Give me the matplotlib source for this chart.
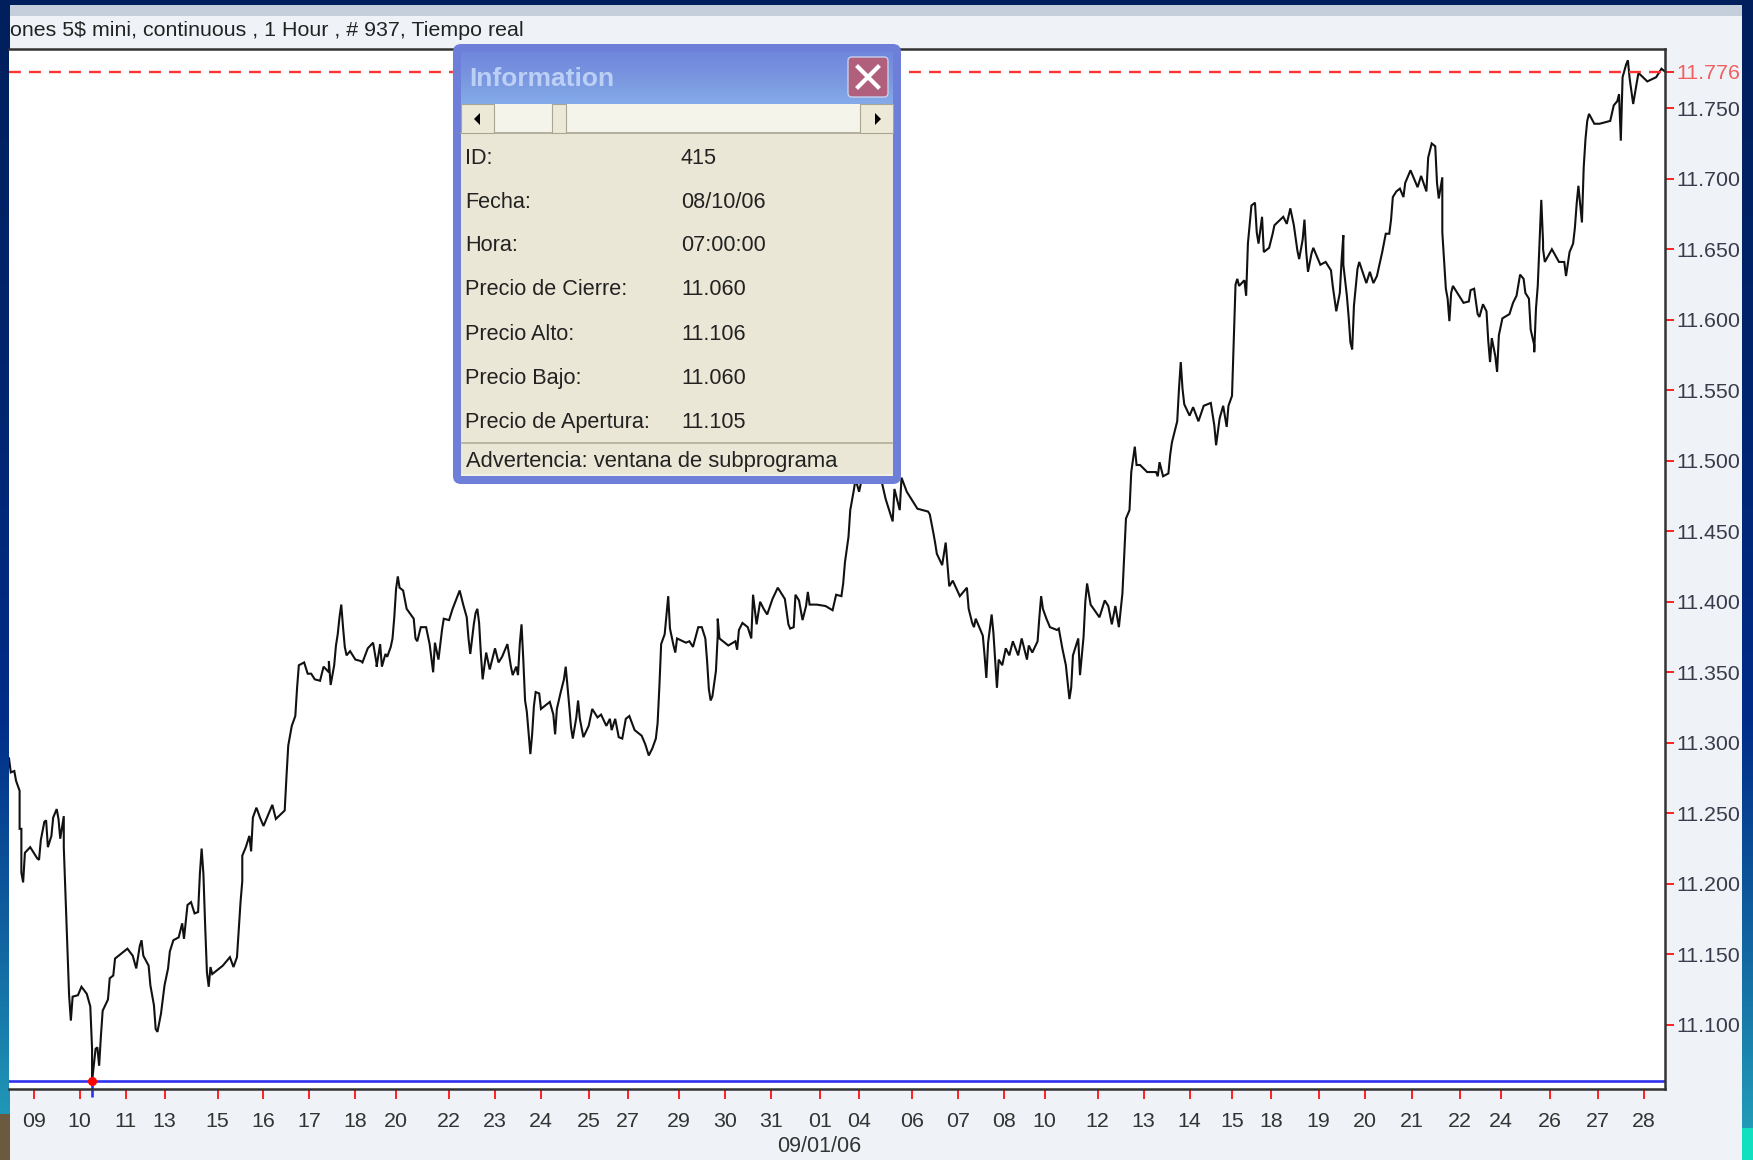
import numpy as np
import matplotlib
matplotlib.use("Agg")
import matplotlib.pyplot as plt
from matplotlib.colors import LinearSegmentedColormap
from matplotlib.patches import Rectangle, FancyBboxPatch, Polygon

plt.rcParams['font.family'] = ['Liberation Sans', 'DejaVu Sans']
plt.rcParams['lines.scale_dashes'] = False

W, H = 1753, 1160

# ---------- data ----------
bar_index = [
0,1,3,4,6,6,7,7,8,9,12,16,17,18,20,21,22,24,25,27,28,29,31,31,32,33,34,35,36,39,41,44,46,47,47,49,50,51,52,53,56,57,59,60,63,67,70,72,74,75,76,79,80,82,83,84,86,88,90,91,93,96,98,99,101,103,105,107,108,109,110,111,112,113,114,115,121,125,127,129,131,132,132,134,136,137,138,140,142,144,146,149,151,156,157,158,
160,162,163,164,167,169,171,173,176,178,181,181,182,184,185,186,187,188,189,190,191,193,196,199,200,203,206,208,208,210,211,213,214,216,217,218,219,220,221,223,225,229,230,231,233,236,238,240,241,243,245,246,249,251,255,257,259,260,261,263,264,265,266,267,268,270,272,275,277,279,282,284,285,287,288,289,290,291,292,293,294,295,296,297,298,300,301,306,308,309,310,312,314,315,317,318,319,321,322,323,325,328,330,333,335,338,340,341,343,345,347,349,351,354,358,360,362,364,366,367,
368,369,371,373,374,376,377,378,383,385,387,390,392,394,395,396,397,398,400,401,401,402,407,411,412,413,415,418,420,421,423,425,427,429,432,435,439,441,442,444,445,447,449,451,452,453,457,462,466,468,471,472,473,474,475,476,478,479,481,482,485,489,492,494,496,498,500,501,504,505,508,511,514,520,
521,523,524,525,528,530,532,534,538,542,543,545,546,547,551,552,553,554,556,557,559,560,562,564,566,568,571,573,576,577,579,582,583,584,585,587,589,593,594,595,596,598,599,600,601,602,605,606,608,609,610,612,617,620,622,624,626,628,630,631,632,634,635,637,638,640,644,649,650,651,653,656,657,
658,660,661,662,663,664,665,668,670,673,676,680,682,683,685,687,689,690,692,693,694,695,696,699,700,701,703,705,706,707,709,710,713,715,716,721,723,725,727,729,730,732,733,734,735,737,738,742,745,748,749,751,753,754,755,755,757,758,759,760,761,763,764,768,770,772,774,777,779,781,782,783,785,
787,789,790,793,797,799,802,803,805,807,808,809,811,811,813,814,815,816,817,823,826,827,829,831,832,834,836,837,838,839,841,842,843,845,849,851,853,855,857,858,860,861,863,863,864,865,866,867,868,868,869,873,877,880,881,883,885,886,887,888,890,891,892,
893,894,897,900,906,908,910,911,912,913,915,916,917,919,921,922,927,932,935,937]

close_price = [
11289,11279,11280,11273,11266,11239,11239,11208,11201,11222,11226,11218,11217,11231,11244,11245,11226,11234,11247,11253,11246,11232,11248,11226,11191,11157,11121,11103,11120,11121,11127,11122,11113,11083,11060,11083,11084,11071,11092,11110,11118,11133,11135,11147,11150,11154,11149,11140,11156,11160,11149,11142,11128,11114,11097,11095,11108,11128,11140,11152,11160,11162,11172,11161,11185,11187,11179,11180,11207,11225,11207,11170,11137,11127,11141,11136,11142,11148,11141,11148,11187,11202,11220,11226,11234,11223,11247,11254,11247,11241,11247,11256,11246,11252,11276,11298,
11312,11319,11339,11355,11357,11349,11349,11345,11344,11354,11350,11358,11341,11355,11369,11377,11389,11398,11382,11368,11362,11365,11359,11358,11357,11367,11371,11356,11354,11370,11354,11363,11361,11368,11374,11389,11409,11418,11410,11408,11395,11388,11374,11372,11382,11382,11370,11350,11371,11359,11380,11388,11387,11395,11408,11398,11389,11374,11363,11384,11392,11395,11385,11363,11345,11364,11352,11367,11357,11361,11370,11354,11348,11354,11348,11370,11384,11359,11330,11322,11307,11292,11306,11326,11336,11335,11324,11329,11320,11306,11324,11335,11345,11354,11326,11311,11303,11318,11330,11317,11304,11312,11324,11318,11320,11312,11317,11309,11317,11304,11303,11317,11319,11309,11305,11299,11291,11296,11303,11314,
11340,11370,11377,11404,11381,11369,11364,11374,11371,11372,11368,11382,11382,11374,11358,11338,11330,11333,11351,11376,11388,11374,11369,11372,11366,11380,11385,11382,11374,11405,11384,11400,11395,11391,11402,11410,11402,11384,11381,11382,11405,11401,11387,11397,11407,11398,11398,11397,11394,11405,11404,11413,11428,11437,11446,11465,11479,11487,11478,11484,11495,11502,11490,11484,11473,11465,11457,11480,11465,11488,11478,11472,11466,11464,
11462,11449,11442,11434,11426,11442,11411,11415,11404,11410,11395,11385,11382,11388,11376,11362,11346,11371,11391,11378,11339,11359,11355,11367,11362,11372,11362,11374,11359,11369,11364,11372,11389,11404,11395,11388,11382,11380,11381,11374,11367,11355,11343,11331,11339,11362,11374,11348,11375,11400,11413,11398,11389,11401,11397,11384,11397,11382,11406,11433,11459,11465,11492,11510,11497,11497,11492,11492,11489,11499,11489,11491,11504,
11513,11523,11528,11551,11570,11551,11540,11532,11538,11528,11539,11541,11525,11511,11530,11539,11524,11539,11546,11585,11625,11629,11624,11628,11617,11654,11681,11683,11662,11654,11673,11648,11651,11661,11667,11673,11668,11679,11667,11649,11643,11657,11671,11648,11634,11647,11651,11639,11641,11635,11624,11606,11619,11642,11660,11639,11617,11602,11584,11579,11610,11636,11641,11626,11634,11626,11631,11648,11661,11661,11671,11687,11691,
11693,11687,11697,11706,11694,11702,11691,11715,11725,11723,11697,11686,11701,11662,11622,11615,11599,11619,11624,11612,11613,11621,11622,11604,11602,11611,11606,11585,11570,11587,11574,11563,11589,11601,11604,11612,11617,11632,11629,11619,11615,11593,11582,11577,11608,11624,11654,11685,11655,11650,11641,11650,11641,11641,11631,11648,11654,11665,11682,11695,11669,11708,11728,
11741,11746,11739,11739,11741,11752,11755,11760,11727,11772,11781,11784,11771,11753,11768,11775,11769,11772,11778,11776]

price_ticks = [11100,11150,11200,11250,11300,11350,11400,11450,11500,11550,11600,11650,11700,11750]
price_high = 11776
price_low = 11060
low_bar = 47

day_ticks = [14,40,66,88,118,144,170,196,219,249,275,301,328,350,379,405,431,459,481,511,537,563,586,616,642,668,692,714,741,767,794,821,844,872,899,925]
day_labels = ['09','10','11','13','15','16','17','18','20','22','23','24','25','27','29','30','31','01','04','06','07','08','10','12','13','14','15','18','19','20','21','22','24','26','27','28']

title_text = 'ones 5$ mini, continuous , 1 Hour , # 937, Tiempo real'
date_text = '09/01/06'
info_rows = [('ID:','415'),('Fecha:','08/10/06'),('Hora:','07:00:00'),
             ('Precio de Cierre:','11.060'),('Precio Alto:','11.106'),
             ('Precio Bajo:','11.060'),('Precio de Apertura:','11.105')]
# --------------------------

fig = plt.figure(figsize=(W/100, H/100), dpi=100, facecolor='#EFF3F7')

def px_axes(z):
    a = fig.add_axes([0,0,1,1], zorder=z)
    a.set_xlim(0,W); a.set_ylim(H,0); a.axis('off')
    a.patch.set_alpha(0)
    return a

# window background
bg = px_axes(0)
cm = LinearSegmentedColormap.from_list('edge',[(0,'#001F5C'),(0.3,'#00246C'),(0.62,'#002C88'),(0.8,'#10609F'),(1,'#24A4BC')])
grad = np.linspace(0,1,256).reshape(-1,1)
bg.imshow(grad, cmap=cm, extent=[0,W,H,0], aspect='auto')
bg.set_xlim(0,W); bg.set_ylim(H,0)
bg.add_patch(Rectangle((0,0),W,4.5,color='#001F5C',lw=0))
bg.add_patch(Rectangle((10,4.5),1732,H,color='#EFF3F7',lw=0))
bg.add_patch(Rectangle((10,4.5),1732,11,color='#C5CFDB',lw=0))
bg.add_patch(Rectangle((0,1114),10,46,color='#6B5A3E',lw=0))
bg.add_patch(Rectangle((1742,1128),11,32,color='#10E0C0',lw=0))
bg.text(10,30,title_text,fontsize=15.4,color='#222222',va='center',ha='left')
bg.text(819,1147,date_text,fontsize=15.5,color='#333333',va='center',ha='center')

# chart
ax = fig.add_axes([9/W,1-1089/H,(1665-9)/W,(1089-49)/H],zorder=1)
ax.plot(bar_index,close_price,color='#111111',lw=1.5,solid_joinstyle='miter')
ax.axhline(price_high,color='#FF3535',lw=1.7,dashes=(8.6,5.8))
ax.axhline(price_low,color='#3030F0',lw=1.9)
ax.plot([low_bar],[price_low],'o',color='#FF0000',ms=5.5,clip_on=False,zorder=5)
ax.plot([low_bar,low_bar],[price_low,price_low-11],color='#3030F0',lw=1.9,clip_on=False,solid_capstyle='butt')
ax.set_xlim(0,937)
ax.set_ylim(11054.5,11792)
ax.yaxis.tick_right()
ax.set_yticks(price_ticks+[price_high])
ax.set_yticklabels([f'{v/1000:.3f}' for v in price_ticks]+[f'{price_high/1000:.3f}'])
ax.set_xticks(day_ticks)
ax.set_xticklabels(day_labels)
ax.tick_params(axis='y',colors='#FF2020',length=6.5,width=1.4,pad=2,labelsize=15.4,labelcolor='#3A3A4A')
ax.tick_params(axis='x',colors='#FF2020',length=7.5,width=1.4,pad=9,labelsize=15.4,labelcolor='#333333')
ax.get_yticklabels()[-1].set_color('#F06060')
for s in ['top','right','bottom']:
    ax.spines[s].set_color('#333333'); ax.spines[s].set_linewidth(1.8)
ax.spines['left'].set_visible(False)

# information dialog
ov = px_axes(2)
ov.add_patch(FancyBboxPatch((455,46),444,436,boxstyle='round,pad=2,rounding_size=8',fc='#6D7FD8',ec='#6D7FD8',lw=0))
tg = LinearSegmentedColormap.from_list('tb',['#7088DC','#7A96E0','#84ABE9'])
ov.imshow(grad,cmap=tg,extent=[461,893,104,52],aspect='auto',zorder=1)
ov.set_xlim(0,W); ov.set_ylim(H,0)
ov.text(469,79,'Information',fontsize=19,fontweight='bold',color='#BCD0F6',va='center',ha='left',zorder=3)
ov.add_patch(FancyBboxPatch((850,59),36,36,boxstyle='round,pad=2,rounding_size=4',fc='#B0607C',ec='#C8D0EC',lw=1,zorder=3))
ov.plot([858,878],[67,87],color='white',lw=3,zorder=4)
ov.plot([858,878],[87,67],color='white',lw=3,zorder=4)
ov.add_patch(Rectangle((461,133),432,343,fc='#EBE7D7',lw=0,zorder=2))
ov.add_patch(Rectangle((461,104),432,29,fc='#F5F4EA',lw=0,zorder=2))
ov.plot([461,893],[133,133],color='#A8A590',lw=1.2,zorder=3)
for x0,x1 in [(461,494),(860,893),(552,566)]:
    ov.add_patch(Rectangle((x0,104),x1-x0,29,fc='#ECE9D8',ec='#A8A590',lw=0.8,zorder=3))
ov.add_patch(Polygon([[474,119],[480,113],[480,125]],fc='black',lw=0,zorder=4))
ov.add_patch(Polygon([[881,119],[875,113],[875,125]],fc='black',lw=0,zorder=4))
for (lab,val),yy in zip(info_rows,[164,208,251,295,340,384,428]):
    ov.text(465,yy,lab,fontsize=15.6,color='#222222',va='baseline',ha='left',zorder=5)
    ov.text(681,yy,val,fontsize=15.6,color='#222222',va='baseline',ha='left',zorder=5)
ov.plot([462,892],[443,443],color='#B0AD98',lw=1.2,zorder=4)
ov.plot([462,892],[475,475],color='#F5F4EA',lw=1.2,zorder=4)
ov.text(466,461,'Advertencia: ventana de subprograma',fontsize=15.8,color='#222222',va='center',ha='left',zorder=5)

fig.savefig('out.png',dpi=100)
